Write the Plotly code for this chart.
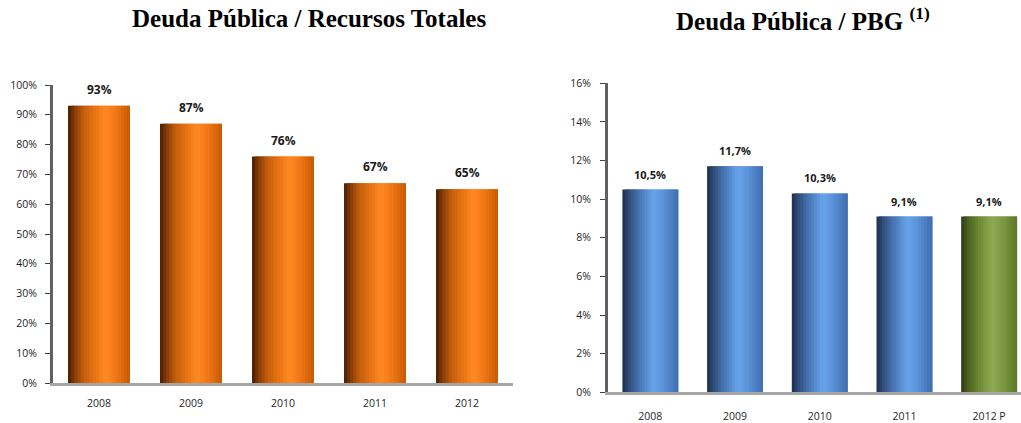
import plotly.graph_objects as go

# ---- data ----
years_left = ["2008", "2009", "2010", "2011", "2012"]
deuda_recursos = [93, 87, 76, 67, 65]
labels_left = ["93%", "87%", "76%", "67%", "65%"]

years_right = ["2008", "2009", "2010", "2011", "2012 P"]
deuda_pbg = [10.5, 11.7, 10.3, 9.1, 9.1]
labels_right = ["10,5%", "11,7%", "10,3%", "9,1%", "9,1%"]
kind_right = ["blue", "blue", "blue", "blue", "green"]

title_left = "Deuda Pública / Recursos Totales"
title_right = "Deuda Pública / PBG <sup>(1)</sup>"

# ---- gradient palettes (left->right across the bar) ----
palettes = {
    "orange": [(0.0, (70, 30, 0)), (0.1, (130, 58, 6)), (0.25, (196, 94, 12)),
               (0.45, (236, 118, 20)), (0.6, (255, 138, 36)), (0.78, (240, 118, 22)),
               (0.92, (214, 100, 8)), (1.0, (200, 90, 4))],
    "blue": [(0.0, (28, 44, 72)), (0.1, (46, 74, 118)), (0.3, (70, 116, 178)),
             (0.55, (104, 164, 236)), (0.72, (92, 148, 218)), (0.9, (74, 124, 192)),
             (1.0, (64, 110, 176))],
    "green": [(0.0, (44, 56, 18)), (0.1, (72, 92, 32)), (0.3, (106, 134, 50)),
              (0.55, (142, 170, 82)), (0.75, (124, 152, 66)), (0.9, (104, 132, 50)),
              (1.0, (92, 120, 42))],
}


def color_at(name, t):
    stops = palettes[name]
    for (t0, c0), (t1, c1) in zip(stops[:-1], stops[1:]):
        if t0 <= t <= t1:
            f = (t - t0) / (t1 - t0) if t1 > t0 else 0
            c = [round(a + (b - a) * f) for a, b in zip(c0, c1)]
            return "rgb(%d,%d,%d)" % tuple(c)
    return "rgb(%d,%d,%d)" % stops[-1][1]


N = 20
fig = go.Figure()

# left chart strips (each strip slightly wider than its step so no seams show)
wl = 0.674
for i in range(N):
    t = (i + 0.5) / N
    step = wl / N
    w = step * 2 if i < N - 1 else step
    fig.add_trace(go.Bar(
        x=years_left, y=deuda_recursos, width=w, offset=-wl / 2 + i * step,
        marker=dict(color=color_at("orange", t), line=dict(width=0)),
        xaxis="x", yaxis="y", showlegend=False, hoverinfo="skip"))

# right chart strips
wr = 0.66
for i in range(N):
    t = (i + 0.5) / N
    step = wr / N
    w = step * 2 if i < N - 1 else step
    fig.add_trace(go.Bar(
        x=years_right, y=deuda_pbg, width=w, offset=-wr / 2 + i * step,
        marker=dict(color=[color_at(k, t) for k in kind_right], line=dict(width=0)),
        xaxis="x2", yaxis="y2", showlegend=False, hoverinfo="skip"))

ann = []
for i, (y, lab) in enumerate(zip(deuda_recursos, labels_left)):
    ann.append(dict(x=i, y=y, xref="x", yref="y", text="<b>%s</b>" % lab, showarrow=False,
                    yanchor="bottom", yshift=6, font=dict(family="Open Sans", size=12, color="#1a1a1a")))
for i, (y, lab) in enumerate(zip(deuda_pbg, labels_right)):
    ann.append(dict(x=i, y=y, xref="x2", yref="y2", text="<b>%s</b>" % lab, showarrow=False,
                    yanchor="bottom", yshift=6, font=dict(family="Open Sans", size=11, color="#1a1a1a")))
ann.append(dict(x=309 / 1021, y=1 - 19 / 423, xref="paper", yref="paper", text="<b>%s</b>" % title_left,
                showarrow=False, xanchor="center", yanchor="middle",
                font=dict(family="Liberation Serif", size=25, color="black")))
ann.append(dict(x=803 / 1021, y=1 - 19 / 423, xref="paper", yref="paper", text="<b>%s</b>" % title_right,
                showarrow=False, xanchor="center", yanchor="middle",
                font=dict(family="Liberation Serif", size=25, color="black")))

tickfont = dict(family="Open Sans", size=10.5, color="#262626")

fig.update_layout(
    width=1021, height=423, margin=dict(l=0, r=0, t=0, b=0, autoexpand=False),
    paper_bgcolor="white", plot_bgcolor="white", barmode="overlay",
    annotations=ann,
    xaxis=dict(domain=[53 / 1021, 513 / 1021], range=[-0.5, 4.5], type="category",
               showline=True, linecolor="#a6a6a6", linewidth=3, ticks="", showgrid=False,
               tickfont=tickfont, ticklabelstandoff=8, anchor="y", automargin=False),
    yaxis=dict(domain=[1 - 383 / 423, 1 - 85 / 423], range=[0, 100], tickvals=list(range(0, 101, 10)),
               ticktext=["%d%%" % v for v in range(0, 101, 10)],
               showline=True, linecolor="#606060", linewidth=3, ticks="outside", ticklen=5,
               tickcolor="#404040", tickwidth=1, showgrid=False, zeroline=False,
               tickfont=tickfont, ticklabelstandoff=6, anchor="x", automargin=False),
    xaxis2=dict(domain=[608 / 1021, 1], range=[-0.5, 4.376], type="category",
                showline=True, linecolor="#a6a6a6", linewidth=3, ticks="", showgrid=False,
                tickfont=tickfont, ticklabelstandoff=12, anchor="y2", automargin=False),
    yaxis2=dict(domain=[1 - 392.3 / 423, 1 - 83.3 / 423], range=[0, 16], tickvals=list(range(0, 17, 2)),
                ticktext=["%d%%" % v for v in range(0, 17, 2)],
                showline=True, linecolor="#606060", linewidth=3, ticks="outside", ticklen=5,
                tickcolor="#404040", tickwidth=1, showgrid=False, zeroline=False,
                tickfont=tickfont, ticklabelstandoff=7, anchor="x2", automargin=False),
)

fig.write_html("out.html", config={"displayModeBar": False},
               post_script="document.body.style.margin='0';document.body.style.overflow='hidden';")
